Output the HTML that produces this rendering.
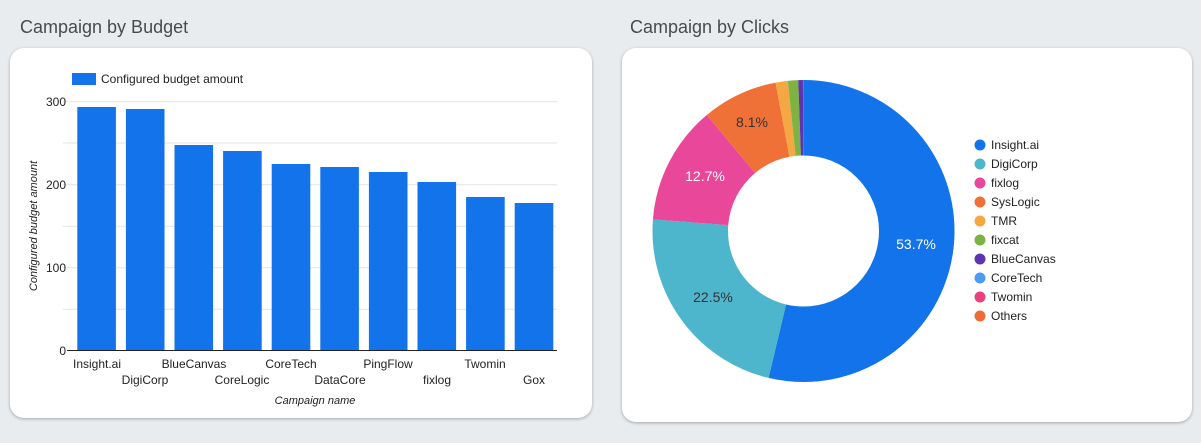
<!DOCTYPE html>
<html><head><meta charset="utf-8"><style>
body{margin:0;width:1201px;height:443px;background:#e9ecef;font-family:"Liberation Sans",sans-serif;overflow:hidden;position:relative}
.t{position:absolute;top:17px;font-size:18px;color:#4a4a4a}
.card{position:absolute;background:#fff;border-radius:14px;box-shadow:0 1px 3px rgba(0,0,0,.3)}
</style></head><body>
<div class="t" style="left:20px">Campaign by Budget</div>
<div class="t" style="left:630px">Campaign by Clicks</div>
<div class="card" style="left:10px;top:48px;width:582px;height:370px"></div>
<div class="card" style="left:622px;top:48px;width:570px;height:374px"></div>
<svg width="1201" height="443" style="position:absolute;left:0;top:0" font-family="Liberation Sans, sans-serif">
<rect x="72" y="73" width="24" height="12" fill="#1273eb"/>
<text x="101" y="83" font-size="12" fill="#222">Configured budget amount</text>
<g stroke="#e3e3e3" stroke-width="1">
<line x1="63" x2="557" y1="101.7" y2="101.7"/><line x1="63" x2="557" y1="143" y2="143"/><line x1="63" x2="557" y1="184.8" y2="184.8"/><line x1="63" x2="557" y1="226.3" y2="226.3"/><line x1="63" x2="557" y1="267.8" y2="267.8"/><line x1="63" x2="557" y1="309.3" y2="309.3"/></g>
<g font-size="12" fill="#222" text-anchor="end"><text x="66" y="106">300</text><text x="66" y="189">200</text><text x="66" y="272">100</text><text x="66" y="355">0</text></g>
<g fill="#1273eb">
<rect x="77.3" y="107" width="38.6" height="243"/>
<rect x="125.9" y="109" width="38.6" height="241"/>
<rect x="174.5" y="145" width="38.6" height="205"/>
<rect x="223.1" y="151" width="38.6" height="199"/>
<rect x="271.7" y="164" width="38.6" height="186"/>
<rect x="320.3" y="167" width="38.6" height="183"/>
<rect x="368.9" y="172" width="38.6" height="178"/>
<rect x="417.5" y="182" width="38.6" height="168"/>
<rect x="466.1" y="197" width="38.6" height="153"/>
<rect x="514.7" y="203" width="38.6" height="147"/>
</g>
<line x1="67" x2="557" y1="350.5" y2="350.5" stroke="#222" stroke-width="1"/>
<g font-size="12" fill="#222" text-anchor="middle">
<text x="97" y="368">Insight.ai</text><text x="145" y="384">DigiCorp</text>
<text x="194" y="368">BlueCanvas</text><text x="242" y="384">CoreLogic</text>
<text x="291" y="368">CoreTech</text><text x="340" y="384">DataCore</text>
<text x="388" y="368">PingFlow</text><text x="437" y="384">fixlog</text>
<text x="485" y="368">Twomin</text><text x="534" y="384">Gox</text>
</g>
<text x="315" y="404" font-size="11" font-style="italic" fill="#222" text-anchor="middle">Campaign name</text>
<text transform="translate(37,226) rotate(-90)" font-size="11" font-style="italic" fill="#222" text-anchor="middle">Configured budget amount</text>
<g transform="translate(803.5,231) rotate(-90)" fill="none" stroke-width="75.5">
<circle r="113.25" stroke="#1273eb" stroke-dasharray="382.11 1000" stroke-dashoffset="0"/>
<circle r="113.25" stroke="#4db6cc" stroke-dasharray="160.10 1000" stroke-dashoffset="-382.11"/>
<circle r="113.25" stroke="#e9479a" stroke-dasharray="90.37 1000" stroke-dashoffset="-542.21"/>
<circle r="113.25" stroke="#f07138" stroke-dasharray="57.64 1000" stroke-dashoffset="-632.58"/>
<circle r="113.25" stroke="#f4a742" stroke-dasharray="9.25 1000" stroke-dashoffset="-690.22"/>
<circle r="113.25" stroke="#7cb342" stroke-dasharray="7.83 1000" stroke-dashoffset="-699.47"/>
<circle r="113.25" stroke="#5e35b1" stroke-dasharray="3.56 1000" stroke-dashoffset="-707.30"/>
<circle r="113.25" stroke="#ec407a" stroke-dasharray="0.71 1000" stroke-dashoffset="-710.86"/>
</g>
<g font-size="14" text-anchor="middle">
<text x="916" y="249" fill="#fff">53.7%</text>
<text x="713" y="302" fill="#333">22.5%</text>
<text x="705" y="181" fill="#fff">12.7%</text>
<text x="752" y="127" fill="#333">8.1%</text>
</g>
<g font-size="12" fill="#222">
<circle cx="980" cy="145" r="5.5" fill="#1273eb"/><text x="991" y="149">Insight.ai</text>
<circle cx="980" cy="164" r="5.5" fill="#4db6cc"/><text x="991" y="168">DigiCorp</text>
<circle cx="980" cy="183" r="5.5" fill="#e9479a"/><text x="991" y="187">fixlog</text>
<circle cx="980" cy="202" r="5.5" fill="#f07138"/><text x="991" y="206">SysLogic</text>
<circle cx="980" cy="221" r="5.5" fill="#f4a742"/><text x="991" y="225">TMR</text>
<circle cx="980" cy="240" r="5.5" fill="#7cb342"/><text x="991" y="244">fixcat</text>
<circle cx="980" cy="259" r="5.5" fill="#5e35b1"/><text x="991" y="263">BlueCanvas</text>
<circle cx="980" cy="278" r="5.5" fill="#4a9cf5"/><text x="991" y="282">CoreTech</text>
<circle cx="980" cy="297" r="5.5" fill="#ec407a"/><text x="991" y="301">Twomin</text>
<circle cx="980" cy="316" r="5.5" fill="#f06c37"/><text x="991" y="320">Others</text>
</g>
</svg>
</body></html>
